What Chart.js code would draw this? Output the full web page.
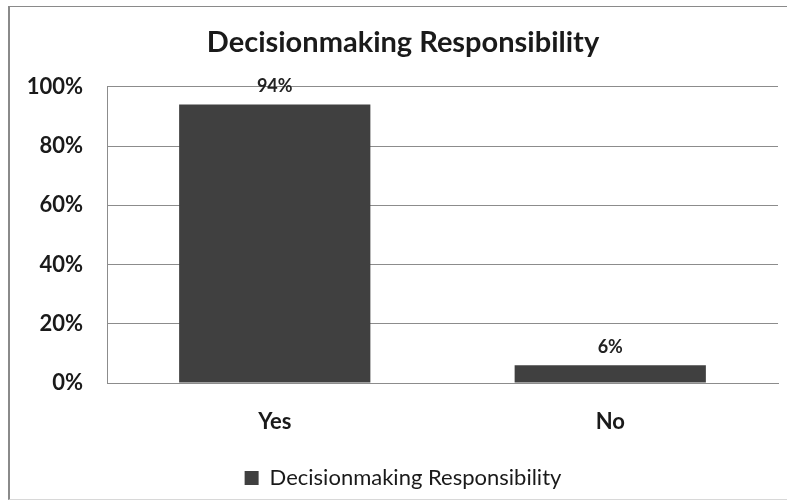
<!DOCTYPE html>
<html lang="en">
<head>
    <meta charset="UTF-8">
    <title>Decisionmaking Responsibility</title>
    <script src="https://cdn.jsdelivr.net/npm/chart.js"></script>
    <style>
        body {
            margin: 0;
            background: #ffffff;
            font-family: 'Lato', sans-serif;
            overflow: hidden;
        }

        /* Chart frame: grey rule on top and left, faint one at the bottom;
           it runs a little past the right edge of the window */
        .frame {
            position: absolute;
            left: 8px;
            top: 6px;
            width: 797px;
            height: 494px;
            border-top: 1px solid #8a8a8a;
            border-left: 2px solid #8a8a8a;
            border-bottom: 1px solid #d8d8d8;
            box-sizing: border-box;
        }

        .frame canvas {
            display: block;
        }
    </style>
</head>
<body>
    <div class="frame">
        <canvas id="chart" width="795" height="492"></canvas>
    </div>

    <script>
        const categories = ['Yes', 'No'];
        const shares = [94, 6];
        const yTicks = [0, 20, 40, 60, 80, 100];
        const seriesName = 'Decisionmaking Responsibility';

        const barColor = '#404040';
        const font = 'Lato';

        // Value labels above each bar
        const valueLabels = {
            id: 'valueLabels',
            afterDatasetsDraw(chart) {
                const ctx = chart.ctx;
                const meta = chart.getDatasetMeta(0);
                ctx.save();
                ctx.font = 'bold 18px ' + font;
                ctx.fillStyle = '#222';
                ctx.textAlign = 'center';
                ctx.textBaseline = 'middle';
                meta.data.forEach((bar, i) => {
                    ctx.fillText(shares[i] + '%', bar.x, bar.y - 18);
                });
                ctx.restore();
            }
        };

        new Chart(document.getElementById('chart'), {
            type: 'bar',
            data: {
                labels: categories,
                datasets: [{
                    label: seriesName,
                    data: shares,
                    backgroundColor: barColor,
                    categoryPercentage: 0.57,
                    barPercentage: 1.0
                }]
            },
            options: {
                responsive: false,
                animation: false,
                layout: { padding: { left: 0, right: 9, top: 0, bottom: 0 } },
                scales: {
                    y: {
                        min: 0,
                        max: 100,
                        afterBuildTicks(scale) {
                            scale.ticks = yTicks.map(v => ({ value: v }));
                        },
                        afterFit(scale) {
                            scale.width = 97;
                        },
                        ticks: {
                            callback: v => v + '%',
                            color: '#1a1a1a',
                            font: { family: font, size: 22, weight: 'bold' },
                            padding: 24
                        },
                        grid: {
                            color: '#8c8c8c',
                            lineWidth: 1,
                            drawTicks: false
                        },
                        border: { color: '#8c8c8c', width: 1 }
                    },
                    // empty right-hand gutter between the plot and the frame edge
                    gutter: {
                        type: 'linear',
                        position: 'right',
                        afterFit(scale) {
                            scale.width = 18;
                        },
                        ticks: { display: false },
                        grid: { display: false, drawTicks: false },
                        border: { display: false }
                    },
                    x: {
                        afterFit(scale) {
                            scale.height = 64;
                        },
                        ticks: {
                            color: '#1a1a1a',
                            font: { family: font, size: 22, weight: 'bold' },
                            padding: 26
                        },
                        grid: { display: false, drawTicks: false },
                        border: { color: '#8c8c8c', width: 1 }
                    }
                },
                plugins: {
                    title: {
                        display: true,
                        text: seriesName,
                        color: '#1a1a1a',
                        font: { family: font, size: 29, weight: 'bold' },
                        padding: { top: 18, bottom: 27 }
                    },
                    legend: {
                        position: 'bottom',
                        labels: {
                            color: '#1a1a1a',
                            font: { family: font, size: 22 },
                            boxWidth: 14,
                            boxHeight: 14,
                            padding: 20
                        }
                    },
                    tooltip: { enabled: false }
                }
            },
            plugins: [valueLabels]
        });
    </script>
</body>
</html>
